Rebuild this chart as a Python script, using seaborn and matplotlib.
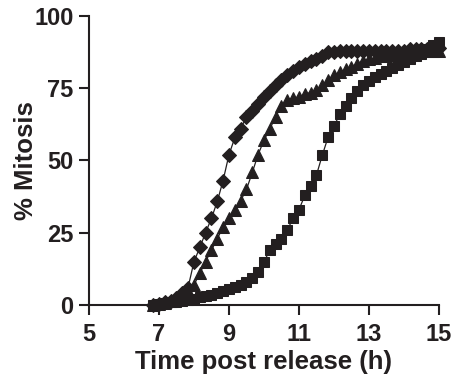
import numpy as np
import pandas as pd
import matplotlib
matplotlib.use("Agg")
import matplotlib.pyplot as plt
import seaborn as sns

time_h = [6.83, 7.0, 7.17, 7.33, 7.5, 7.67, 7.83, 8.0, 8.17, 8.33, 8.5, 8.67, 8.83, 9.0,
          9.17, 9.33, 9.5, 9.67, 9.83, 10.0, 10.17, 10.33, 10.5, 10.67, 10.83, 11.0,
          11.17, 11.33, 11.5, 11.67, 11.83, 12.0, 12.17, 12.33, 12.5, 12.67, 12.83, 13.0,
          13.17, 13.33, 13.5, 13.67, 13.83, 14.0, 14.17, 14.33, 14.5, 14.67, 14.83, 15.0]

diamond_vals = [0, 0.5, 1, 1.5, 2.5, 4, 6, 15, 20, 25, 30, 36, 43, 52,
                58, 61, 65, 67, 69.5, 72, 74, 76, 78, 79.5, 81, 82.5,
                83.5, 84.5, 85, 86, 87.5, 87.5, 88, 88, 88, 88, 88, 88,
                88, 88, 88, 88, 88, 88, 88.5, 88.5, 88.5, 88.5, 89, 89]

triangle_vals = [0, 0.3, 0.8, 1.5, 2.5, 3.5, 5, 7, 11, 15, 19, 23, 27, 30,
                 33, 36, 40, 46, 52, 57, 61, 65, 69, 71, 71.5, 72,
                 73, 73.5, 74.5, 76, 78, 79.5, 80.5, 81.5, 82.5, 83.5, 84.5, 85,
                 85.5, 86, 86, 86.5, 87, 87, 87.5, 87.5, 88, 88, 88, 88]

square_vals = [0, 0.3, 0.6, 0.9, 1.2, 1.5, 1.8, 2.2, 2.6, 3, 3.5, 4, 4.7, 5.5,
               6.2, 7, 8, 9.5, 11.5, 15, 19, 21, 23, 26, 30, 33,
               38, 41, 45, 52, 58, 62, 66, 69, 71.5, 74, 76, 77.5,
               79, 80, 81, 82, 83, 84, 85, 86, 87, 88.5, 90, 91]

x_ticks = [5, 7, 9, 11, 13, 15]
y_ticks = [0, 25, 50, 75, 100]

sns.set_theme(style="ticks")
plt.rcParams['font.family'] = ['Liberation Sans', 'DejaVu Sans']
plt.rcParams['font.weight'] = 'bold'

ink = "#231f20"
fig = plt.figure(figsize=(4.57, 3.87), dpi=100)
ax = fig.add_axes([0.1947, 0.2119, 0.9606 - 0.1947, 0.9587 - 0.2119])

series = [(diamond_vals, "D", 6.8), (triangle_vals, "^", 8.2), (square_vals, "s", 7.2)]
for vals, mk, ms in series:
    sns.lineplot(x=time_h, y=vals, ax=ax, color=ink, linewidth=0.9,
                 marker=mk, markersize=ms, markeredgecolor=ink,
                 markerfacecolor=ink, clip_on=False, estimator=None)

ax.set_xlim(5, 15)
ax.set_ylim(0, 100)
ax.set_xticks(x_ticks)
ax.set_yticks(y_ticks)
ax.tick_params(axis='both', labelsize=17, width=1.5, length=7, color=ink,
               labelcolor=ink, direction='out')
ax.tick_params(axis='x', pad=6)
ax.tick_params(axis='y', pad=4)
for lab in ax.get_xticklabels() + ax.get_yticklabels():
    lab.set_fontweight('bold')
ax.set_xlabel("Time post release (h)", fontsize=18.5, fontweight='bold', color=ink, labelpad=3)
ax.set_ylabel("% Mitosis", fontsize=18.5, fontweight='bold', color=ink, labelpad=-3)
sns.despine(ax=ax)
for sp in ["left", "bottom"]:
    ax.spines[sp].set_linewidth(1.5)
    ax.spines[sp].set_color(ink)

fig.savefig("out.png", dpi=100)
